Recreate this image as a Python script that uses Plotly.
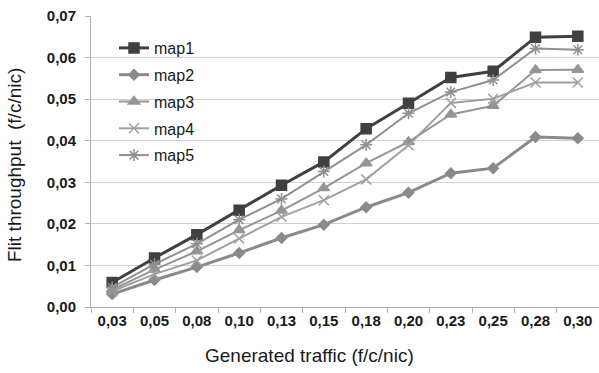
import plotly.graph_objects as go

categories = ["0,03", "0,05", "0,08", "0,10", "0,13", "0,15", "0,18", "0,20", "0,23", "0,25", "0,28", "0,30"]
map1 = [0.0059, 0.0118, 0.0174, 0.0233, 0.0293, 0.0349, 0.0429, 0.0490, 0.0552, 0.0567, 0.0649, 0.0651]
map2 = [0.0031, 0.0065, 0.0096, 0.0130, 0.0166, 0.0198, 0.0240, 0.0275, 0.0322, 0.0334, 0.0409, 0.0406]
map3 = [0.0042, 0.0090, 0.0134, 0.0185, 0.0232, 0.0286, 0.0346, 0.0397, 0.0463, 0.0484, 0.0570, 0.0571]
map4 = [0.0038, 0.0079, 0.0112, 0.0165, 0.0217, 0.0257, 0.0307, 0.0389, 0.0491, 0.0501, 0.0540, 0.0540]
map5 = [0.0047, 0.0103, 0.0152, 0.0210, 0.0260, 0.0326, 0.0390, 0.0466, 0.0517, 0.0546, 0.0622, 0.0619]

series = [
    ("map1", map1, "#404040", "square", 10, 3),
    ("map2", map2, "#8a8a8a", "diamond", 8, 3),
    ("map3", map3, "#959595", "triangle-up", 10, 2),
    ("map4", map4, "#a0a0a0", "x-thin-open", 10, 2),
    ("map5", map5, "#909090", "asterisk-open", 10, 2),
]

fig = go.Figure()
for name, vals, col, sym, sz, lw in series:
    fig.add_trace(go.Scatter(
        x=categories, y=vals, name=name, mode="lines+markers",
        legendgroup=name,
        line=dict(color=col, width=lw),
        marker=dict(symbol=sym, size=sz, color=col, line=dict(color=col, width=1.5)),
    ))

W, H = 599, 373
L, R, T, B = 91, 0, 16, 373 - 307
pw = W - L - R
ph = H - T - B
TXT = "#1a1a1a"
TICKFONT = dict(family="Liberation Sans", size=15, color=TXT, weight="bold")

def px(x):
    return (x - L) / pw

def py(y):
    return (307 - y) / ph

fig.update_layout(
    width=W, height=H,
    margin=dict(l=L, r=R, t=T, b=B, autoexpand=False),
    paper_bgcolor="white", plot_bgcolor="white",
    separators=",.",
    font=dict(family="Liberation Sans, Arial, sans-serif", color=TXT),
    showlegend=True,
    legend=dict(
        x=px(114), y=py(31), xanchor="left", yanchor="top",
        bgcolor="rgba(0,0,0,0)", font=dict(size=16, color=TXT),
        traceorder="grouped", tracegroupgap=3, itemwidth=30,
    ),
    xaxis=dict(
        type="category", tickson="boundaries", ticks="outside", ticklen=5,
        tickcolor="#b0b0b0", showline=True, linecolor="#b0b0b0", linewidth=1,
        showgrid=False, automargin=False, tickangle=0,
        tickfont=TICKFONT,
        range=[-0.5, 11.5],
    ),
    yaxis=dict(
        range=[0, 0.07], dtick=0.01, tickformat=".2f",
        ticks="outside", ticklen=5, tickcolor="#b0b0b0",
        showline=True, linecolor="#b0b0b0", linewidth=1,
        showgrid=True, gridcolor="#d0d0d0", gridwidth=1,
        tickfont=TICKFONT, automargin=False,
        ticklabelstandoff=6,
        zeroline=False,
    ),
    annotations=[
        dict(
            text="Flit throughput  (f/c/nic)", textangle=-90,
            xref="paper", yref="paper", x=px(14), y=py(165),
            xanchor="center", yanchor="middle", showarrow=False,
            font=dict(size=19, color=TXT),
        ),
        dict(
            text="Generated traffic (f/c/nic)",
            xref="paper", yref="paper", x=px(309), y=py(355),
            xanchor="center", yanchor="middle", showarrow=False,
            font=dict(size=19, color=TXT),
        ),
    ],
)

fig.write_html(
    "out.html",
    config={"displayModeBar": False},
    post_script="document.body.style.margin='0';document.body.style.padding='0';",
)
